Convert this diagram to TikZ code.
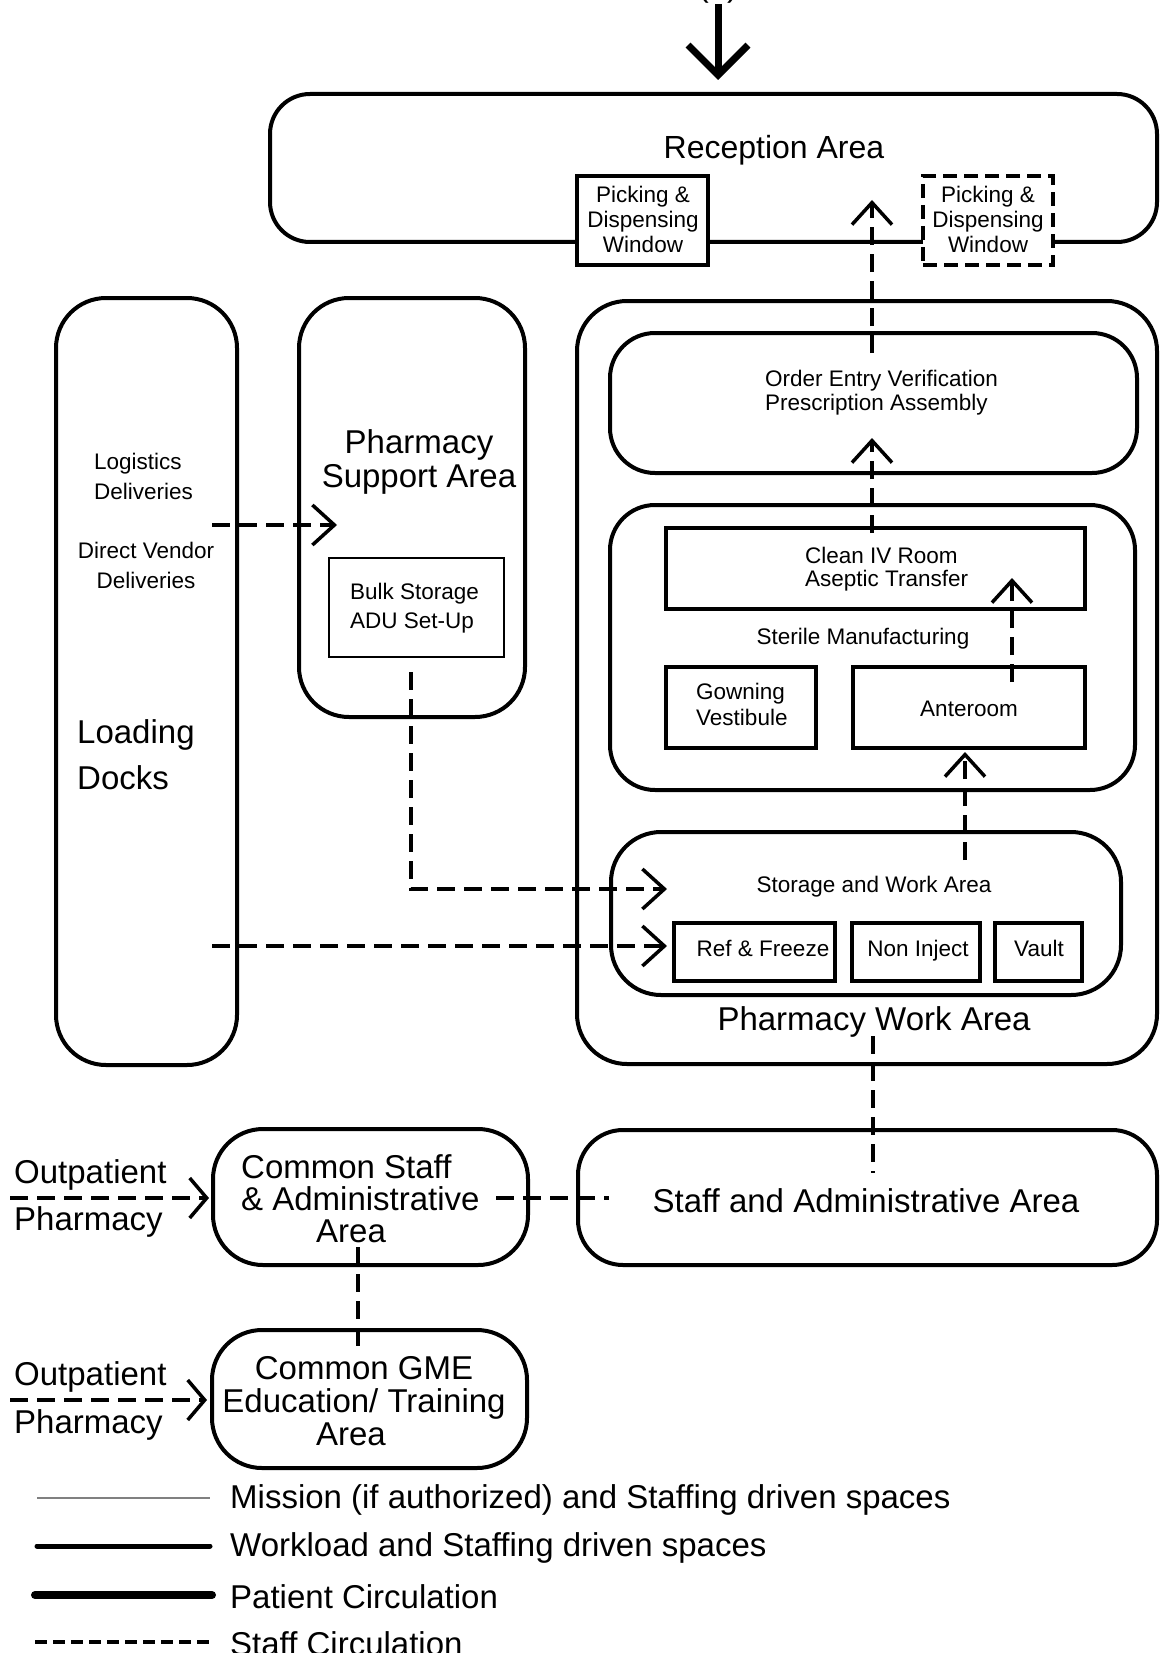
\documentclass[tikz,border=0pt]{standalone}
\usepackage{fontspec}
\setmainfont{Liberation Sans}
\usetikzlibrary{arrows.meta}
\begin{document}
\begin{tikzpicture}[x=1pt,y=-1pt,
  area/.style={draw, line width=4pt, rounded corners=#1, inner sep=0pt, outer sep=0pt},
  area/.default=45pt,
  room/.style={draw, line width=4.5pt, inner sep=0pt, outer sep=0pt, fill=white},
  thinroom/.style={draw, line width=1.5pt, inner sep=0pt, outer sep=0pt},
  lbl/.style={inner sep=0pt, font=\fontsize{33}{34}\selectfont},
  slbl/.style={inner sep=0pt, font=\fontsize{22.5}{25}\selectfont},
  staffline/.style={line width=3.5pt, dash pattern=on 18pt off 9pt},
  staffarrow/.style={staffline, -{Straight Barb[length=22pt,width=40pt]}},
  sidearrow/.style={staffline, -{Straight Barb[length=17pt,width=40pt]}},
  patientarrow/.style={line width=7pt, -{Straight Barb[length=30pt,width=60pt]}},
]
\clip (0,0) rectangle (1162,1653);

% ---------- Reception ----------
\node[area=40pt, minimum width=887pt, minimum height=148pt] (rec) at (713.5,168) {};
\node[room, minimum width=131pt, minimum height=89pt] (winL) at (642.5,220.5) {};
\node[room, dash pattern=on 14pt off 7pt, minimum width=130pt, minimum height=89pt] (winR) at (988,220.5) {};
\node[lbl, font=\fontsize{32}{34}\selectfont] (rect) at (774,150) {Reception Area};
\node[slbl, align=center] (winLt) at (643,219) {Picking \&\\Dispensing\\Window};
\node[slbl, align=center] (winRt) at (988,219) {Picking \&\\Dispensing\\Window};

\node[lbl, anchor=base] (one) at (718,-3) {(1)};
\coordinate (recentry) at (718,80);
\draw[patientarrow] (one.south) -- (recentry);

% ---------- Loading docks ----------
\node[area=50pt, minimum width=181pt, minimum height=767pt] (load) at (146.5,681.5) {};
\node[slbl, align=left, anchor=west, font=\fontsize{22.5}{30}\selectfont] (logi) at (94,476) {Logistics\\Deliveries};
\node[slbl, align=center, font=\fontsize{22.5}{30}\selectfont] (dven) at (146,565) {Direct Vendor\\Deliveries};
\node[lbl, align=left, anchor=west, font=\fontsize{33}{46}\selectfont] (loadt) at (77,755) {Loading\\Docks};

% ---------- Pharmacy support ----------
\node[area=50pt, minimum width=226pt, minimum height=419pt] (sup) at (412,507.5) {};
\node[lbl, align=center] (supt) at (419,462) {Pharmacy\\Support Area};
\node[thinroom, minimum width=175pt, minimum height=99pt] (bulk) at (416.5,607.5) {};
\node[slbl, align=left, anchor=west, font=\fontsize{22.5}{29}\selectfont] (bulkt) at (350,608) {Bulk Storage\\ADU Set-Up};

% ---------- Pharmacy work area ----------
\node[area=50pt, minimum width=580pt, minimum height=763pt] (pwa) at (867,682.5) {};
\node[lbl] (pwat) at (874,1022) {Pharmacy Work Area};

\node[area=45pt, minimum width=527pt, minimum height=140pt] (order) at (873.5,403) {};
\node[slbl, align=left, anchor=west, font=\fontsize{22.5}{24}\selectfont] (ordert) at (765,393) {Order Entry Verification\\Prescription Assembly};

\node[area=45pt, minimum width=525pt, minimum height=285pt] (ster) at (872.5,647.5) {};
\node[slbl] (stert) at (863,639) {Sterile Manufacturing};
\node[room, minimum width=419pt, minimum height=81pt] (clean) at (875.5,568.5) {};
\node[slbl, align=left, anchor=west, font=\fontsize{22.5}{23}\selectfont] (cleant) at (805,569) {Clean IV Room\\Aseptic Transfer};
\node[room, minimum width=150pt, minimum height=81pt] (gown) at (741,707.5) {};
\node[slbl, align=left, anchor=west, font=\fontsize{22.5}{26}\selectfont] (gownt) at (696,704) {Gowning\\Vestibule};
\node[room, minimum width=232pt, minimum height=81pt] (ante) at (969,707.5) {};
\node[slbl] (antet) at (969,709) {Anteroom};

\node[area=50pt, minimum width=510pt, minimum height=163pt] (stor) at (866,913.5) {};
\node[slbl] (stort) at (874,887) {Storage and Work Area};
\node[room, minimum width=161pt, minimum height=58pt] (ref) at (754.5,952) {};
\node[slbl, anchor=base] (reft) at (763,956) {Ref \& Freeze};
\node[room, minimum width=128pt, minimum height=58pt] (noninj) at (916,952) {};
\node[slbl, anchor=base] (noninjt) at (918,956) {Non Inject};
\node[room, minimum width=87pt, minimum height=58pt] (vault) at (1038.5,952) {};
\node[slbl, anchor=base] (vaultt) at (1039,956) {Vault};

% ---------- Lower areas ----------
\node[area=45pt, minimum width=579pt, minimum height=135pt] (sadm) at (867.5,1197.5) {};
\node[lbl] (sadmt) at (866,1201) {Staff and Administrative Area};

\node[area=50pt, minimum width=315pt, minimum height=136pt] (com) at (370.5,1197) {};
\node[lbl, align=left, anchor=west, font=\fontsize{33}{32}\selectfont] (comt) at (241,1199) {Common Staff\\\& Administrative\\\hspace*{75pt}Area};

\node[area=50pt, minimum width=315pt, minimum height=138pt] (gme) at (369.5,1399) {};
\node[lbl, align=center, font=\fontsize{33}{33}\selectfont] (gmet) at (364,1401) {Common GME\\Education/ Training\\Area\hspace*{26pt}};

\node[lbl, anchor=west] (op1a) at (14,1175) {Outpatient};
\node[lbl, anchor=west] (op1b) at (14,1222) {Pharmacy};
\node[lbl, anchor=west] (op2a) at (14,1377) {Outpatient};
\node[lbl, anchor=west] (op2b) at (14,1425) {Pharmacy};

% ---------- Staff circulation ----------
\coordinate (ldout) at (212,525);   \coordinate (supin) at (337,525);
\coordinate (bulkout) at (411,672); \coordinate (storin) at (667,889);
\coordinate (ldout2) at (212,946);  \coordinate (refin) at (667,946);
\coordinate (storout) at (965,860); \coordinate (antein) at (965,752);
\coordinate (anteout) at (1012,682);\coordinate (cleanin) at (1012,578);
\coordinate (cleanout) at (872,533);\coordinate (orderin) at (872,438);
\coordinate (orderout) at (872,353);\coordinate (recin) at (872,200);
\coordinate (pwaout) at (873,1036); \coordinate (sadmin) at (873,1173);
\coordinate (comout) at (496,1198); \coordinate (sadmin2) at (609,1198);
\coordinate (comout2) at (358,1247);\coordinate (gmein) at (358,1350);
\coordinate (op1) at (10,1198);     \coordinate (comin) at (209,1198);
\coordinate (op2) at (10,1400);     \coordinate (gmein2) at (207,1400);

\draw[staffarrow] (ldout) -- (supin);
\draw[staffarrow] (bulkout) |- (storin);
\draw[staffarrow] (ldout2) -- (refin);
\draw[staffarrow] (storout) -- (antein);
\draw[staffarrow] (anteout) -- (cleanin);
\draw[staffarrow] (cleanout) -- (orderin);
\draw[staffarrow] (orderout) -- (recin);
\draw[staffline] (pwaout) -- (sadmin);
\draw[staffline] (comout) -- (sadmin2);
\draw[staffline] (comout2) -- (gmein);
\draw[sidearrow] (op1) -- (comin);
\draw[sidearrow] (op2) -- (gmein2);

% ---------- Legend ----------
\coordinate (lg1a) at (37,1498);  \coordinate (lg1b) at (210,1498);
\coordinate (lg2a) at (37,1546);  \coordinate (lg2b) at (210,1546);
\coordinate (lg3a) at (35,1595);  \coordinate (lg3b) at (212,1595);
\coordinate (lg4a) at (35,1642);  \coordinate (lg4b) at (210,1642);
\draw[gray, line width=2pt] (lg1a) -- (lg1b);
\draw[line width=5pt, line cap=round] (lg2a) -- (lg2b);
\draw[line width=8pt, line cap=round] (lg3a) -- (lg3b);
\draw[line width=3.5pt, dash pattern=on 12pt off 6pt] (lg4a) -- (lg4b);
\node[lbl, anchor=west] (lg1t) at (230,1500) {Mission (if authorized) and Staffing driven spaces};
\node[lbl, anchor=west] (lg2t) at (230,1548) {Workload and Staffing driven spaces};
\node[lbl, anchor=west] (lg3t) at (230,1597) {Patient Circulation};
\node[lbl, anchor=west] (lg4t) at (230,1644) {Staff Circulation};
\end{tikzpicture}
\end{document}
